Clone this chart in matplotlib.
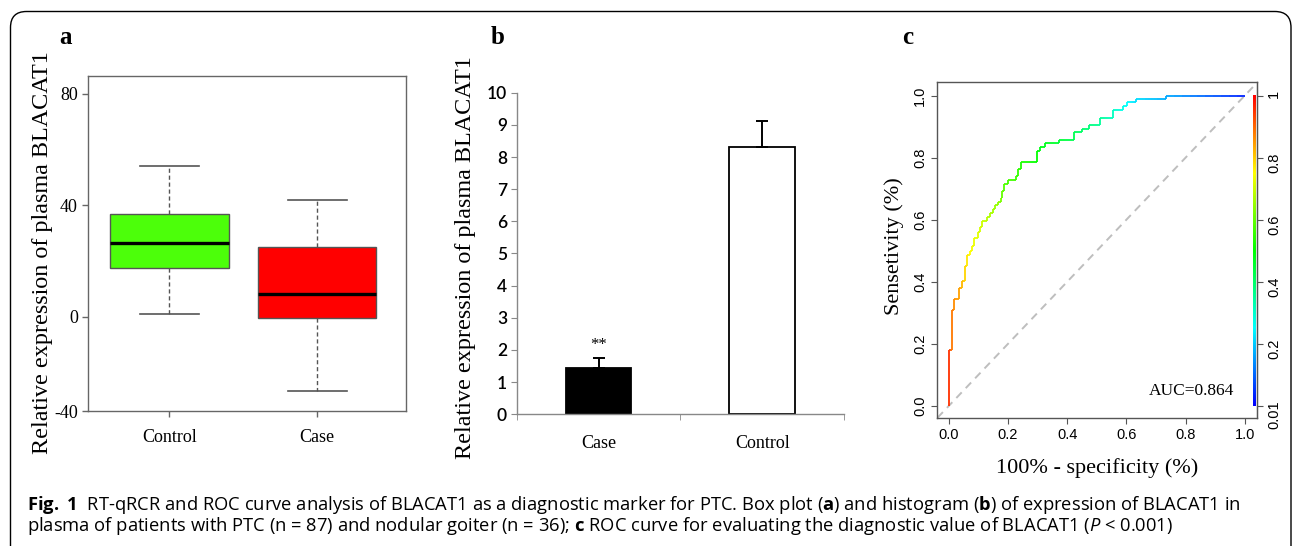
import numpy as np
import matplotlib
matplotlib.use("Agg")
import matplotlib.pyplot as plt
from matplotlib.colors import ListedColormap, hsv_to_rgb
from matplotlib.collections import LineCollection
from matplotlib.patches import FancyBboxPatch

# ---------------- data ----------------
# panel a: box plot
box_groups = ["Control", "Case"]
box_whislo = [0.9, -26.8]
box_q1 = [17.3, -0.4]
box_med = [26.3, 8.0]
box_q3 = [37.0, 25.0]
box_whishi = [54.1, 41.8]
box_colors = ["#4CFF0A", "#FF0000"]
box_ytick_labels = ["-40", "0", "40", "80"]

# panel b: bar chart
bar_groups = ["Case", "Control"]
bar_means = [1.43, 8.30]
bar_errs = [0.31, 0.83]
bar_colors = ["black", "white"]

# panel c: ROC curve (staircase levels) and cutoff value per step
roc_fpr = [0, 0.012, 0.019, 0.036, 0.045, 0.055, 0.063, 0.072, 0.080, 0.087,
           0.098, 0.106, 0.114, 0.130, 0.140, 0.149, 0.157, 0.167, 0.176, 0.181,
           0.188, 0.199, 0.227, 0.233, 0.245, 0.299, 0.308, 0.327, 0.373, 0.423,
           0.449, 0.475, 0.512, 0.556, 0.588, 0.604, 0.633, 0.734, 1.0]
roc_tpr = [0, 0.18, 0.309, 0.345, 0.379, 0.404, 0.452, 0.487, 0.50, 0.516,
           0.54, 0.562, 0.578, 0.595, 0.61, 0.623, 0.635, 0.648, 0.658, 0.669,
           0.693, 0.714, 0.728, 0.741, 0.764, 0.787, 0.823, 0.836, 0.846, 0.857,
           0.882, 0.893, 0.907, 0.929, 0.954, 0.966, 0.978, 0.989, 1.0]
roc_cutoff = [0.95, 0.88, 0.86, 0.84, 0.82, 0.79, 0.77, 0.75, 0.74, 0.73,
              0.72, 0.71, 0.70, 0.68, 0.67, 0.66, 0.65, 0.64, 0.62, 0.60,
              0.58, 0.57, 0.56, 0.55, 0.53, 0.50, 0.48, 0.47, 0.45, 0.42,
              0.40, 0.38, 0.35, 0.31, 0.27, 0.25, 0.22, 0.17, 0.03]
roc_ticks = [0.0, 0.2, 0.4, 0.6, 0.8, 1.0]
roc_tick_labels = ["0.0", "0.2", "0.4", "0.6", "0.8", "1.0"]
cutoff_tick_labels = ["0.01", "0.2", "0.4", "0.6", "0.8", "1"]
auc_text = "AUC=0.864"

caption1 = (r"$\mathbf{Fig.\ 1}$  RT-qRCR and ROC curve analysis of BLACAT1 as a diagnostic "
            r"marker for PTC. Box plot ($\mathbf{a}$) and histogram ($\mathbf{b}$) of expression of BLACAT1 in")
caption2 = (r"plasma of patients with PTC (n = 87) and nodular goiter (n = 36); $\mathbf{c}$ ROC curve "
            r"for evaluating the diagnostic value of BLACAT1 ($\mathit{P}$ < 0.001)")

# ---------------- style ----------------
SERIF = "Liberation Serif"
SANS = "Liberation Sans"
CAP = "Open Sans"
plt.rcParams["mathtext.fontset"] = "custom"
plt.rcParams["mathtext.rm"] = CAP
plt.rcParams["mathtext.bf"] = CAP + ":bold"
plt.rcParams["mathtext.it"] = CAP + ":italic"

W, H = 1293, 546
fig = plt.figure(figsize=(W / 100, H / 100), dpi=100)


def rect(x0, y0, x1, y1):
    return [x0 / W, 1 - y1 / H, (x1 - x0) / W, (y1 - y0) / H]


# frame
frame = FancyBboxPatch((0.105, -1.0), 12.91 - 0.105, 5.46 - 0.115 + 1.0,
                       boxstyle="round,pad=0,rounding_size=0.16",
                       transform=fig.dpi_scale_trans, fill=False,
                       lw=1.0, ec="black")
fig.add_artist(frame)

# ---------------- panel a ----------------
ax_a = fig.add_axes(rect(88, 76, 406, 411))
stats = []
for g, lo, q1, m, q3, hi in zip(box_groups, box_whislo, box_q1, box_med, box_q3, box_whishi):
    stats.append(dict(label=g, whislo=lo, q1=q1, med=m, q3=q3, whishi=hi, fliers=[]))
gray = "#555555"
res = ax_a.bxp(stats, positions=[1, 2], widths=0.8, capwidths=0.4, patch_artist=True,
               showfliers=False,
               boxprops=dict(edgecolor=gray, lw=1.0),
               medianprops=dict(color="black", lw=2.4),
               whiskerprops=dict(color=gray, lw=1.0, ls=(0, (3, 2))),
               capprops=dict(color=gray, lw=1.2))
for patch, c in zip(res["boxes"], box_colors):
    patch.set_facecolor(c)
ylo_a = -33.8
ax_a.set_ylim(ylo_a, 86.3)
ax_a.set_xlim(0.45, 2.6)
ax_a.set_yticks([ylo_a, 0, 40, 80], labels=box_ytick_labels)
ax_a.set_xticks([1, 2], labels=box_groups)
for s in ax_a.spines.values():
    s.set_color("#666666")
    s.set_linewidth(1.0)
ax_a.tick_params(axis="both", direction="out", length=4.3, color="#666666",
                 labelsize=13, width=1.0)
ax_a.tick_params(axis="y", pad=3)
ax_a.tick_params(axis="x", pad=9)
for lab in ax_a.get_xticklabels() + ax_a.get_yticklabels():
    lab.set_fontfamily(SERIF)
ax_a.set_ylabel("Relative expression of plasma BLACAT1", fontsize=17.4, family=SERIF)
ax_a.yaxis.set_label_coords(-0.11, 0.473)

# ---------------- panel b ----------------
ax_b = fig.add_axes(rect(516.7, 92.7, 844, 414.3))
xb = np.arange(len(bar_groups)) + 0.5
ax_b.bar(xb, bar_means, width=0.4, color=bar_colors, edgecolor="black", lw=1.3,
         yerr=[np.zeros(len(bar_errs)), bar_errs], capsize=4,
         error_kw=dict(elinewidth=1.4, capthick=1.4, ecolor="black"))
ax_b.annotate("**", xy=(xb[0], bar_means[0] + bar_errs[0]), xytext=(0, 4),
              textcoords="offset points", ha="center", va="bottom",
              fontsize=12, family=SERIF)
ax_b.set_ylim(0, 10)
ax_b.set_xlim(0, 2)
ax_b.set_yticks(range(0, 11))
ax_b.set_xticks(xb, labels=bar_groups)
ax_b.set_xticks([0, 1, 2], minor=True)
for side in ("top", "right"):
    ax_b.spines[side].set_visible(False)
for side in ("left", "bottom"):
    ax_b.spines[side].set_color("#888888")
    ax_b.spines[side].set_linewidth(1.0)
ax_b.tick_params(axis="y", direction="out", length=4, color="#888888", labelsize=12.5, pad=3)
ax_b.tick_params(axis="x", which="major", length=0, labelsize=13, pad=15)
ax_b.tick_params(axis="x", which="minor", direction="out", length=4, color="#888888")
for lab in ax_b.get_yticklabels():
    lab.set_fontfamily("Lato")
    lab.set_fontweight("semibold")
for lab in ax_b.get_xticklabels():
    lab.set_fontfamily(SERIF)
ax_b.set_ylabel("Relative expression of plasma BLACAT1", fontsize=17.4, family=SERIF)
ax_b.yaxis.set_label_coords(-0.123, 0.488)

# ---------------- panel c ----------------
ax_c = fig.add_axes(rect(937.3, 82.3, 1256.7, 417.7))
t = np.linspace(0, 1, 256)
cmap = ListedColormap(hsv_to_rgb(np.stack([(1 - t) * 2 / 3, np.ones_like(t), np.ones_like(t)], axis=1)))

segs, vals = [], []
for i in range(len(roc_fpr) - 1):
    segs.append([(roc_fpr[i], roc_tpr[i]), (roc_fpr[i], roc_tpr[i + 1])])
    vals.append(roc_cutoff[i])
    xs = np.linspace(roc_fpr[i], roc_fpr[i + 1], 11)
    cs = np.linspace(roc_cutoff[i], roc_cutoff[i + 1], 11)
    for k in range(10):
        segs.append([(xs[k], roc_tpr[i + 1]), (xs[k + 1], roc_tpr[i + 1])])
        vals.append(0.5 * (cs[k] + cs[k + 1]))
lc = LineCollection(segs, cmap=cmap, norm=plt.Normalize(0, 1), lw=1.3, capstyle="butt")
lc.set_array(np.array(vals))
ax_c.add_collection(lc)
ax_c.axline((0, 0), (1, 1), color="#BEBEBE", lw=1.4, ls=(0, (4, 3)), zorder=1)
ax_c.imshow(t[:, None], cmap=cmap, origin="lower", aspect="auto",
            extent=[1.027, 1.037, 0.0, 1.0], zorder=3)
ax_c.set_xlim(-0.0385, 1.0405)
ax_c.set_ylim(-0.0377, 1.043)
ax_c.text(0.965, 0.049, auc_text, ha="right", va="center", fontsize=12.5, family=SERIF)
ax_c.set_xticks(roc_ticks, labels=roc_tick_labels)
ax_c.set_yticks(roc_ticks, labels=roc_tick_labels)
for s in ax_c.spines.values():
    s.set_color("#555555")
    s.set_linewidth(1.0)
ax_c.tick_params(axis="both", direction="out", length=4, color="#555555", labelsize=10.5, pad=3.5)
ax_c.tick_params(axis="y", labelrotation=90)
for lab in ax_c.get_xticklabels():
    lab.set_fontfamily(SANS)
for lab in ax_c.get_yticklabels():
    lab.set_fontfamily(SANS)
    lab.set_va("center")
sec = ax_c.secondary_yaxis("right")
sec.set_yticks(roc_ticks, labels=cutoff_tick_labels)
sec.spines["right"].set_color("#555555")
sec.tick_params(axis="y", direction="out", length=4, color="#555555", labelsize=10.5,
                pad=3.5, labelrotation=90)
for lab in sec.get_yticklabels():
    lab.set_fontfamily(SANS)
ax_c.set_xlabel("100% - specificity (%)", fontsize=16, family=SERIF)
ax_c.xaxis.set_label_coords(0.5, -0.12)
ax_c.set_ylabel("Sensetivity (%)", fontsize=16, family=SERIF)
ax_c.yaxis.set_label_coords(-0.104, 0.512)

# panel letters
for lx, ly, letter in [(65, 38, "a"), (498, 37, "b"), (908, 38, "c")]:
    fig.text(lx / W, 1 - ly / H, letter, fontsize=18, fontweight="bold", family=SERIF,
             ha="center", va="center")

# caption
fig.text(27 / W, 1 - 505 / H, caption1, fontsize=13.2, family=CAP, ha="left", va="center")
fig.text(27 / W, 1 - 526 / H, caption2, fontsize=13.2, family=CAP, ha="left", va="center")

fig.savefig("out.png", dpi=100)
